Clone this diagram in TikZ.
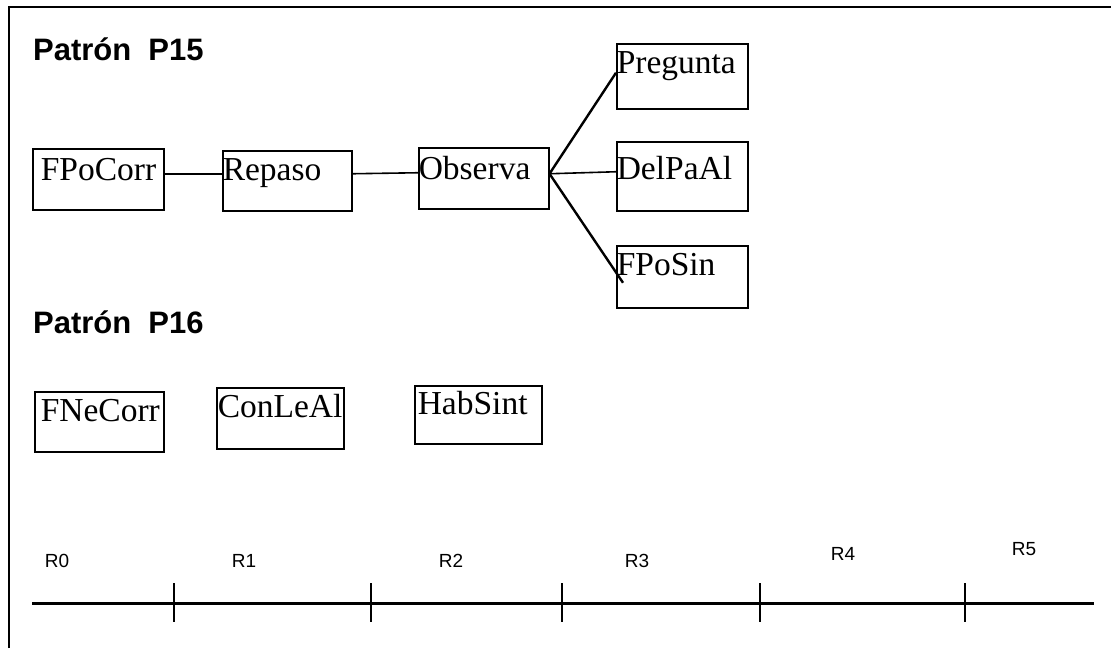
\documentclass[tikz,border=0pt]{standalone}
\usepackage{fontspec}
\newfontfamily\boxfont{Liberation Serif}
\newfontfamily\labfont{Liberation Sans}
\begin{document}
\begin{tikzpicture}[x=1pt,y=1pt,
  box/.style={draw, line width=1.5pt, anchor=north west, inner xsep=0pt, inner ysep=0pt,
    align=left, font=\boxfont\fontsize{33.5}{35}\selectfont},
  head/.style={anchor=base west, inner sep=0pt, font=\labfont\bfseries\fontsize{31}{33}\selectfont},
  rlab/.style={anchor=base, inner sep=0pt, font=\labfont\fontsize{19}{21}\selectfont},
  conn/.style={line width=1.6pt},
  fan/.style={line width=2.4pt},
  axis/.style={line width=3pt},
  tick/.style={line width=2.4pt},
  frame/.style={line width=2pt}]
\useasboundingbox (0,0) rectangle (1111,-648);

% outer frame (top and left sides)
\draw[frame] (9,-648) -- (9,-7) -- (1111,-7);

% headings
\node[head] (p15) at (33,-60) {Patrón\hspace{17pt}P15};
\node[head] (p16) at (33,-333) {Patrón\hspace{17pt}P16};

% pattern P15
\node[box, text width=131pt, text height=32pt, text depth=29pt] (fpocorr) at (32,-148) {\hspace*{8pt}FPoCorr};
\node[box, text width=129pt, text height=30pt, text depth=30pt] (repaso) at (222,-150) {Repaso};
\node[box, text width=130pt, text height=32pt, text depth=29pt] (observa) at (418,-147) {Observa};
\node[box, text width=131pt, text height=30pt, text depth=35pt] (pregunta) at (616,-43) {Pregunta};
\node[box, text width=131pt, text height=38pt, text depth=31pt] (delpaal) at (616,-141) {DelPaAl};
\node[box, text width=131pt, text height=30pt, text depth=32pt] (fposin) at (616,-245) {FPoSin};

\draw[conn] ([yshift=7pt]fpocorr.base east) -- ([yshift=7pt]repaso.base west);
\draw[conn] ([yshift=7pt]repaso.base east) -- ([yshift=7pt]observa.base west);

\coordinate (fork) at ([yshift=6pt]observa.base east);
\coordinate (fposinend) at ([xshift=7pt,yshift=-7pt]fposin.base west);
\draw[fan] (fork) -- ([yshift=1pt]pregunta.base west);
\draw[conn] (fork) -- ([yshift=8pt]delpaal.base west);
\draw[fan] (fork) -- (fposinend);

% pattern P16
\node[box, text width=129pt, text height=30pt, text depth=30pt] (fnecorr) at (34,-391) {\hspace*{6pt}FNeCorr};
\node[box, text width=127pt, text height=30pt, text depth=31pt] (conleal) at (216,-387) {\hspace*{1pt}ConLeAl};
\node[box, text width=127pt, text height=29pt, text depth=29pt] (habsint) at (414,-385) {\hspace*{3pt}HabSint};

% time axis
\coordinate (ax0) at (32,-603);
\coordinate (ax1) at (1094,-603);
\draw[axis] (ax0) -- (ax1);
\foreach \t/\x in {t1/174, t2/371, t3/562, t4/760, t5/965} {
  \coordinate (\t) at (\x,-603);
  \draw[tick] ([yshift=20pt]\t) -- ([yshift=-19pt]\t);
}

\node[rlab] (r0) at (57,-567) {R0};
\node[rlab] (r1) at (244,-567) {R1};
\node[rlab] (r2) at (451,-567) {R2};
\node[rlab] (r3) at (637,-567) {R3};
\node[rlab] (r4) at (843,-560) {R4};
\node[rlab] (r5) at (1024,-555) {R5};
\end{tikzpicture}
\end{document}
